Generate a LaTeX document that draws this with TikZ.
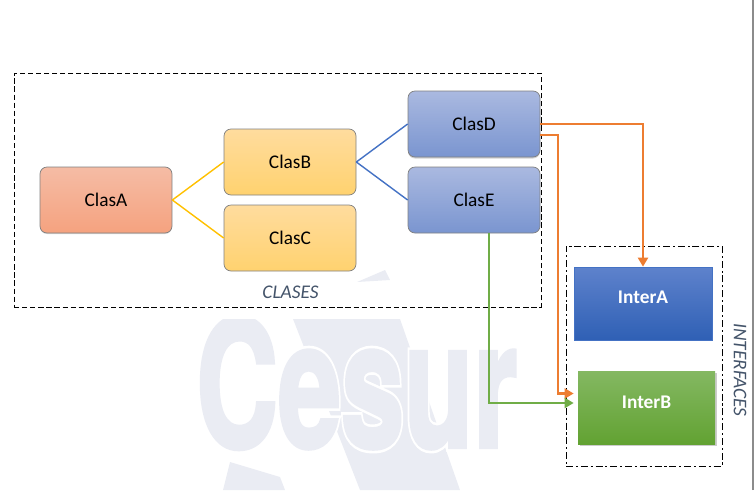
\documentclass[tikz,border=0pt]{standalone}
\usepackage{fontspec}
\setmainfont{Carlito}
\newfontfamily\markfont{TeX Gyre Heros}
\usepackage{xcolor}
\usetikzlibrary{arrows.meta,shadows}
\definecolor{markgray}{HTML}{EAECF3}
\definecolor{labelgray}{HTML}{44546A}
\definecolor{lineyellow}{HTML}{FFC000}
\definecolor{lineblue}{HTML}{4472C4}
\definecolor{lineorange}{HTML}{ED7D31}
\definecolor{linegreen}{HTML}{70AD47}
\definecolor{redtop}{HTML}{F5BCA5}
\definecolor{redbottom}{HTML}{F5A27F}
\definecolor{yellowtop}{HTML}{FFDC9E}
\definecolor{yellowbottom}{HTML}{FFD26F}
\definecolor{bluetop}{HTML}{AAB9E0}
\definecolor{bluebottom}{HTML}{7A95D0}
\definecolor{intertop}{HTML}{5E82CC}
\definecolor{interbottom}{HTML}{2F60B5}
\definecolor{greentop}{HTML}{84B862}
\definecolor{greenbottom}{HTML}{62A232}
\newcommand{\marktext}[1]{\rlap{\special{pdf:code 2 Tr 1 1 1 RG 5.5 w}#1}\special{pdf:code 2 Tr .918 .925 .953 RG 2.5 w}#1\special{pdf:code 0 Tr 0 w}}
\tikzset{
  clasbox/.style={draw=black!50, rounded corners=0.14cm, minimum width=2.64cm, minimum height=1.32cm, font=\fontsize{11}{13}\selectfont},
  interbox/.style={minimum height=1.46cm, text=white, font=\fontsize{11}{13}\selectfont\bfseries},
  areaname/.style={text=labelgray, font=\fontsize{11}{13}\selectfont\itshape},
  link/.style={line width=0.8pt},
  route/.style={line width=1.3pt, -{Triangle[length=0.18cm,width=0.2cm]}},
  areabox/.style={draw, line width=0.5pt}
}
\begin{document}
\begin{tikzpicture}
  \useasboundingbox (0,0) rectangle (15.08,9.8);

  \fill[markgray] (5.86,3.42) -- (8,3.42) -- (9.2,0) -- (7.2,0) -- cycle;
  \fill[markgray] (7.14,4.16) -- (7.7,4.4) -- (7.8,4.2) -- cycle;
  \fill[markgray] (4.46,0) -- (4.6,0.56) -- (5.6,0.26) -- (5.7,0) -- cycle;
  \node[text=markgray, inner sep=0pt, anchor=base west, xscale=0.645] (watermark) at (3.92,0.86)
    {\markfont\bfseries\fontsize{100}{100}\selectfont\marktext{Cesur}};
  \fill[white] (3.6,3.42) rectangle (9,3.95);
  \draw[black!45, line width=0.6pt] (15.06,0) -- (15.06,9.8);

  \node[areabox, dash pattern=on 3pt off 1.6pt, minimum width=10.54cm, minimum height=4.68cm] (clases) at (5.55,6.0) {};
  \node[areabox, dash pattern=on 4pt off 1.6pt on 1.2pt off 1.6pt, minimum width=3.12cm, minimum height=4.4cm] (interfaces) at (12.88,2.68) {};

  \node[clasbox, top color=redtop, bottom color=redbottom, drop shadow={shadow xshift=0pt, shadow yshift=-0.02cm, opacity=0.3}] (clasA) at (2.12,5.8) {ClasA};
  \node[clasbox, top color=yellowtop, bottom color=yellowbottom] (clasB) at (5.8,6.56) {ClasB};
  \node[clasbox, top color=yellowtop, bottom color=yellowbottom] (clasC) at (5.8,5.04) {ClasC};
  \node[clasbox, top color=bluetop, bottom color=bluebottom, drop shadow={shadow xshift=0pt, shadow yshift=-0.03cm, opacity=0.35}] (clasD) at (9.48,7.32) {ClasD};
  \node[clasbox, top color=bluetop, bottom color=bluebottom] (clasE) at (9.48,5.8) {ClasE};

  \node[interbox, draw=lineblue, top color=intertop, bottom color=interbottom, minimum width=2.76cm] (interA) at (12.86,3.73) {\raisebox{0.24cm}{InterA}};
  \node[interbox, top color=greentop, bottom color=greenbottom, minimum width=2.74cm, drop shadow={shadow xshift=0.03cm, shadow yshift=-0.04cm, opacity=0.4}] (interB) at (12.93,1.65) {\raisebox{0.2cm}{InterB}};

  \node[areaname] (clasesname) at (5.81,3.96) {CLASES};
  \node[areaname, rotate=-90] (interfacesname) at (14.8,2.4) {INTERFACES};

  \draw[link, lineyellow] (clasA.east) -- (clasB.west);
  \draw[link, lineyellow] (clasA.east) -- (clasC.west);
  \draw[link, lineblue] (clasB.east) -- (clasD.west);
  \draw[link, lineblue] (clasB.east) -- (clasE.west);

  \draw[route, lineorange] (clasD.east) -| (interA.north);
  \draw[route, lineorange] ([yshift=-0.22cm]clasD.east) -- ++(0.35,0) |- ([xshift=-0.08cm,yshift=0.28cm]interB.west);
  \draw[route, linegreen] ([xshift=0.3cm]clasE.south) |- ([xshift=-0.08cm,yshift=0.09cm]interB.west);
\end{tikzpicture}
\end{document}
